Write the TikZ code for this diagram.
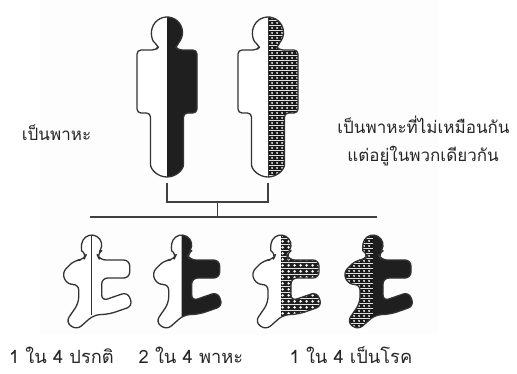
\documentclass[tikz,border=0pt]{standalone}
\usepackage{fontspec}
\newfontfamily\thaifont[Script=Thai]{Loma}
\usetikzlibrary{patterns.meta}

% white holes punched in a dark ground
\tikzdeclarepattern{
  name=holes, type=colored,
  bounding box={(0pt,0pt) and (4.5pt,4.5pt)},
  tile size={(4.5pt,4.5pt)},
  code={
    \fill[black!90] (0pt,0pt) rectangle (4.5pt,4.5pt);
    \fill[white] (2.25pt,2.25pt) circle[radius=1.15pt];
  }
}
\tikzdeclarepattern{
  name=bigholes, type=colored,
  bounding box={(0pt,0pt) and (5.6pt,5.6pt)},
  tile size={(5.6pt,5.6pt)},
  code={
    \fill[black!88] (0pt,0pt) rectangle (5.6pt,5.6pt);
    \fill[white] (2.8pt,2.8pt) circle[radius=1.55pt];
  }
}

\tikzset{
  figline/.style={draw=black!80, line width=1.3pt, line join=round},
  solidhalf/.style={fill=black!88},
  dothalf/.style={pattern=holes},
  bigdothalf/.style={pattern=bigholes},
  linkline/.style={draw=black!75, line width=1.2pt},
  lbl/.style={font=\thaifont\fontsize{17}{20}\selectfont, inner sep=0pt,
              anchor=base, text=black!85},
  countlbl/.style={lbl, font=\thaifont\fontsize{18.3}{21}\selectfont},
  % standing adult, origin at the top of the head on the centre line
  adult/.style={rounded corners=4, insert path={
    (-7.6,29) arc[start angle=119.4, end angle=420.6, radius=15.5]
    -- (11,33) -- (30,33) -- (30,96) -- (16.5,96) -- (16.5,143.5)
    arc[start angle=0, end angle=180, radius=16.5]
    -- (-16.5,96) -- (-30,96) -- (-30,33) -- (-11,33) -- cycle}},
  % running child, origin at the top of the head on the centre line
  kid/.style={rounded corners=6, insert path={
    (-5,18.7) arc[start angle=120, end angle=420, radius=10]
    -- (8,25) -- (38,25) -- (38,43) -- (10,43) -- (10,66)
    -- (36,57) -- (41,71) -- (18,79) -- (2,80)
    -- (-15,95) -- (-26,87) -- (-13,68) -- (-13,49)
    -- (-24,50) -- (-30,38) -- (-17,25) -- (-8,25) -- cycle}},
}

\begin{document}
\begin{tikzpicture}[x=1pt, y=-1pt]
\useasboundingbox (0,0) rectangle (517,373);
\fill[black!0.8] (40,0) rectangle (438,335);

% parents
\begin{scope}[shift={(167,17)}]
  \fill[white, adult];
  \begin{scope}\clip (0,-5) rectangle (40,170); \fill[solidhalf, adult]; \end{scope}
  \draw[figline, adult];
\end{scope}
\begin{scope}[shift={(268,17)}]
  \fill[white, adult];
  \begin{scope}\clip (0,-5) rectangle (40,170); \fill[dothalf, adult]; \end{scope}
  \draw[figline, adult];
  \draw[black!80, line width=0.8pt] (0,0) -- (0,160);
\end{scope}

% children
\begin{scope}[shift={(91.7,235)}]
  \fill[white, kid];
  \draw[figline, kid];
  \draw[black!80, line width=1pt] (0,0) -- (0,80);
\end{scope}
\begin{scope}[shift={(181.7,235)}]
  \fill[white, kid];
  \begin{scope}\clip (0,-5) rectangle (50,100); \fill[solidhalf, kid]; \end{scope}
  \draw[figline, kid];
\end{scope}
\begin{scope}[shift={(281,235)}]
  \fill[white, kid];
  \begin{scope}\clip (0,-5) rectangle (50,100); \fill[bigdothalf, kid]; \end{scope}
  \draw[figline, kid];
\end{scope}
\begin{scope}[shift={(373,235)}]
  \begin{scope}\clip (-40,-5) rectangle (0,100); \fill[dothalf, kid]; \end{scope}
  \begin{scope}\clip (0,-5) rectangle (50,100); \fill[solidhalf, kid]; \end{scope}
  \draw[figline, kid];
\end{scope}

% family connector
\coordinate (lfoot) at (167,183);
\coordinate (rfoot) at (268,183);
\coordinate (lbend) at (167,202);
\coordinate (rbend) at (268,202);
\coordinate (stem)  at (217.5,202);
\coordinate (bar)   at (217.5,217);
\coordinate (barL)  at (90,217);
\coordinate (barR)  at (377,217);
\draw[linkline] (lfoot) -- (lbend) -- (rbend) -- (rfoot);
\draw[linkline] (stem) -- (bar);
\draw[linkline] (barL) -- (barR);

% labels
\node[lbl] (carrier) at (56.5,140) {เป็นพาหะ};
\node[lbl] (mixA) at (423.5,133) {เป็นพาหะที่ไม่เหมือนกัน};
\node[lbl] (mixB) at (423,161) {แต่อยู่ในพวกเดียวกัน};
\node[countlbl] (normal) at (61.5,363) {1 ใน 4 ปรกติ};
\node[countlbl] (carriers) at (191,363) {2 ใน 4 พาหะ};
\node[countlbl] (affected) at (351,363) {1 ใน 4 เป็นโรค};
\end{tikzpicture}
\end{document}
